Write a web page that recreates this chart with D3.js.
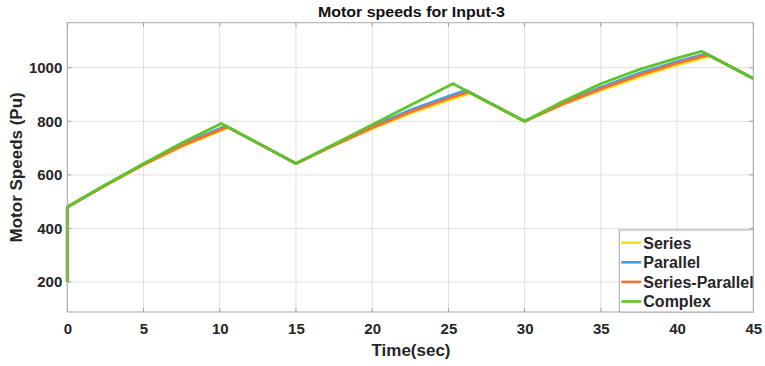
<!DOCTYPE html>
<html>
<head>
<meta charset="utf-8">
<script src="https://cdn.jsdelivr.net/npm/d3@7"></script>
<style>
  html, body { margin: 0; padding: 0; background: #fff; }
  svg { display: block; font-family: "Liberation Sans", Arial, sans-serif; }
</style>
</head>
<body>
<svg id="chart" width="765" height="366"></svg>
<script>
// Motor speed traces (time in seconds, speed in Pu)
const timeSeries  = [0, 0, 2.5, 5, 7.5, 10.6, 15, 17.5, 20, 22.5, 25, 26.45, 30, 32.5, 35, 37.5, 40, 42.2, 45];
const speedSeries = [200, 480, 560, 637, 705, 777, 642, 710, 772, 829, 878, 905, 800, 862, 915, 965, 1010, 1043, 960];

const timeParallel  = [0, 0, 2.5, 5, 7.5, 10.4, 15, 17.5, 20, 22.5, 25, 26.15, 30, 32.5, 35, 37.5, 40, 41.9, 45];
const speedParallel = [200, 480, 562, 641, 713, 782, 642, 712, 780, 842, 893, 916, 800, 868, 927, 979, 1023, 1052, 960];

const timeSeriesParallel  = [0, 0, 2.5, 5, 7.5, 10.5, 15, 17.5, 20, 22.5, 25, 26.3, 30, 32.5, 35, 37.5, 40, 42.05, 45];
const speedSeriesParallel = [200, 480, 561, 639, 709, 779, 642, 711, 776, 835, 885, 910, 800, 865, 921, 972, 1017, 1048, 960];

const timeComplex  = [0, 0, 2.5, 5, 7.5, 10.1, 15, 17.5, 20, 22.5, 25.3, 30, 32.5, 35, 37.5, 40, 41.6, 45];
const speedComplex = [200, 480, 562, 642, 719, 792, 642, 714, 787, 860, 940, 800, 874, 940, 993, 1036, 1061, 960];

const seriesNames  = ["Series", "Parallel", "Series-Parallel", "Complex"];
const seriesColors = ["#ECE51C", "#3BA3E6", "#F2703C", "#5DC42A"];
const seriesTimes  = [timeSeries, timeParallel, timeSeriesParallel, timeComplex];
const seriesSpeeds = [speedSeries, speedParallel, speedSeriesParallel, speedComplex];

const xTicks = [0, 5, 10, 15, 20, 25, 30, 35, 40, 45];
const yTicks = [200, 400, 600, 800, 1000];

const titleText = "Motor speeds for Input-3";
const xLabel = "Time(sec)";
const yLabel = "Motor Speeds (Pu)";

const margin = { left: 67.3, right: 765 - 753.3, top: 22.7, bottom: 366 - 312 };
const W = 765, H = 366;
const pw = W - margin.left - margin.right;
const ph = H - margin.top - margin.bottom;

const svg = d3.select("#chart");
const g = svg.append("g").attr("transform", `translate(${margin.left},${margin.top})`);

const x = d3.scaleLinear().domain([0, 45]).range([0, pw]);
const y = d3.scaleLinear().domain([88, 1168]).range([ph, 0]);

const textColor = "#262626";

// grid
g.append("g").selectAll("line").data(xTicks).join("line")
  .attr("x1", d => x(d)).attr("x2", d => x(d))
  .attr("y1", 0).attr("y2", ph)
  .attr("stroke", "#e0e0e0").attr("stroke-width", 1);
g.append("g").selectAll("line").data(yTicks).join("line")
  .attr("x1", 0).attr("x2", pw)
  .attr("y1", d => y(d)).attr("y2", d => y(d))
  .attr("stroke", "#e0e0e0").attr("stroke-width", 1);

// axes (labels only, ticks drawn inward below)
const xAxis = d3.axisBottom(x).tickValues(xTicks).tickFormat(d3.format("d")).tickSize(0).tickPadding(11);
const yAxis = d3.axisLeft(y).tickValues(yTicks).tickFormat(d3.format("d")).tickSize(0).tickPadding(5);

const gx = g.append("g").attr("transform", `translate(0,${ph})`).call(xAxis);
const gy = g.append("g").call(yAxis);
[gx, gy].forEach(a => {
  a.select(".domain").remove();
  a.selectAll("text")
    .attr("fill", textColor)
    .style("font-size", "15px")
    .style("font-weight", "bold")
    .style("font-family", '"Liberation Sans", Arial, sans-serif');
});

// inward tick marks on all four sides
const tickLen = 4, tickColor = "#a0a0a0";
g.append("g").selectAll("line").data(xTicks).join("line")
  .attr("x1", d => x(d)).attr("x2", d => x(d)).attr("y1", ph).attr("y2", ph - tickLen)
  .attr("stroke", tickColor);
g.append("g").selectAll("line").data(xTicks).join("line")
  .attr("x1", d => x(d)).attr("x2", d => x(d)).attr("y1", 0).attr("y2", tickLen)
  .attr("stroke", tickColor);
g.append("g").selectAll("line").data(yTicks).join("line")
  .attr("x1", 0).attr("x2", tickLen).attr("y1", d => y(d)).attr("y2", d => y(d))
  .attr("stroke", tickColor);
g.append("g").selectAll("line").data(yTicks).join("line")
  .attr("x1", pw).attr("x2", pw - tickLen).attr("y1", d => y(d)).attr("y2", d => y(d))
  .attr("stroke", tickColor);

// plot lines
const line = d3.line().x(d => x(d[0])).y(d => y(d[1]));
seriesNames.forEach((name, i) => {
  const pts = seriesTimes[i].map((t, k) => [t, seriesSpeeds[i][k]]);
  g.append("path")
    .datum(pts)
    .attr("d", line)
    .attr("fill", "none")
    .attr("stroke", seriesColors[i])
    .attr("stroke-width", 2.8)
    .attr("stroke-linejoin", "round");
});

// axes box
g.append("rect")
  .attr("x", 0).attr("y", 0).attr("width", pw).attr("height", ph)
  .attr("fill", "none").attr("stroke", "#a8a8a8").attr("stroke-width", 1);

// legend
const legX = 619.3 - margin.left, legY = 230 - margin.top;
const legW = pw - legX, legH = ph - legY;
const leg = g.append("g").attr("transform", `translate(${legX},${legY})`);
leg.append("rect").attr("width", legW).attr("height", legH)
  .attr("fill", "#fff").attr("stroke", "#a8a8a8").attr("stroke-width", 1);
seriesNames.forEach((name, i) => {
  const cy = 12.7 + i * 19.6;
  leg.append("line")
    .attr("x1", 2).attr("x2", 22).attr("y1", cy).attr("y2", cy)
    .attr("stroke", seriesColors[i]).attr("stroke-width", 2.6);
  leg.append("text")
    .attr("x", 24).attr("y", cy + 5.8)
    .attr("fill", textColor)
    .style("font-size", "16px").style("font-weight", "bold")
    .text(name);
});

// titles
svg.append("text")
  .attr("x", 411.5).attr("y", 17)
  .attr("text-anchor", "middle").attr("fill", "#111")
  .attr("textLength", 187).attr("lengthAdjust", "spacingAndGlyphs")
  .style("font-size", "14px").style("font-weight", "bold")
  .text(titleText);
svg.append("text")
  .attr("x", 411).attr("y", 356)
  .attr("text-anchor", "middle").attr("fill", textColor)
  .style("font-size", "17px").style("font-weight", "bold")
  .text(xLabel);
svg.append("text")
  .attr("transform", `translate(22,${margin.top + ph / 2}) rotate(-90)`)
  .attr("text-anchor", "middle").attr("fill", textColor)
  .style("font-size", "17px").style("font-weight", "bold")
  .text(yLabel);
</script>
</body>
</html>
